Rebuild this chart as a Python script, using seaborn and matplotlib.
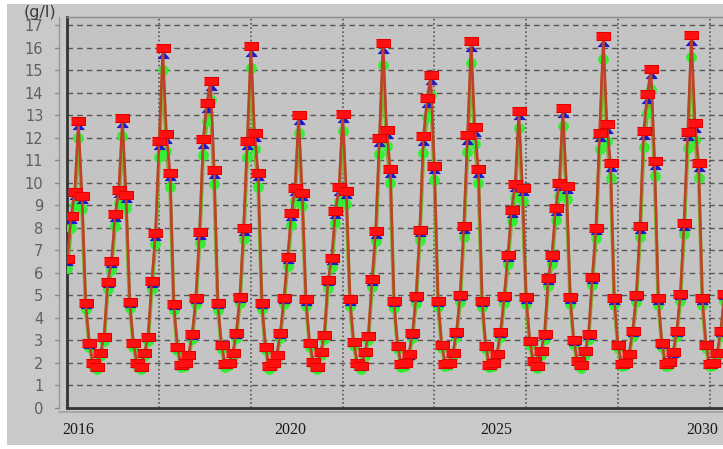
import matplotlib
matplotlib.use("Agg")
import matplotlib.pyplot as plt
from matplotlib.patches import Rectangle
from matplotlib.lines import Line2D
import seaborn as sns
import pandas as pd
import numpy as np

# monthly values, one row per year (15 years)
red_vals = [
    6.6, 8.5, 9.6, 12.75, 9.4, 4.64, 2.86, 1.97, 1.81, 2.44, 3.15, 5.6,
    6.5, 8.58, 9.67, 12.85, 9.44, 4.7, 2.88, 1.96, 1.81, 2.44, 3.15, 5.62,
    7.74, 11.86, 15.96, 12.15, 10.44, 4.6, 2.7, 1.89, 1.98, 2.33, 3.25, 4.88,
    7.79, 11.93, 13.55, 14.53, 10.56, 4.63, 2.78, 1.92, 1.99, 2.41, 3.3, 4.93,
    7.96, 11.86, 16.07, 12.21, 10.44, 4.66, 2.7, 1.84, 1.96, 2.33, 3.3, 4.88,
    6.7, 8.63, 9.77, 13.0, 9.55, 4.81, 2.88, 2.04, 1.81, 2.48, 3.22, 5.67,
    6.66, 8.73, 9.79, 13.07, 9.64, 4.81, 2.93, 2.0, 1.84, 2.46, 3.2, 5.7,
    7.85, 12.0, 16.2, 12.35, 10.6, 4.72, 2.75, 1.92, 1.98, 2.36, 3.3, 4.95,
    7.9, 12.05, 13.75, 14.8, 10.75, 4.75, 2.8, 1.95, 2.0, 2.42, 3.35, 5.0,
    8.05, 12.1, 16.3, 12.45, 10.6, 4.75, 2.75, 1.9, 1.98, 2.38, 3.35, 4.95,
    6.8, 8.8, 9.95, 13.2, 9.75, 4.9, 2.95, 2.05, 1.85, 2.5, 3.25, 5.75,
    6.8, 8.85, 10.0, 13.3, 9.85, 4.9, 2.98, 2.05, 1.88, 2.5, 3.25, 5.8,
    8.0, 12.2, 16.5, 12.6, 10.85, 4.85, 2.8, 1.95, 2.0, 2.4, 3.4, 5.0,
    8.05, 12.3, 13.95, 15.05, 10.95, 4.85, 2.85, 1.95, 2.02, 2.45, 3.4, 5.05,
    8.2, 12.25, 16.55, 12.65, 10.85, 4.85, 2.8, 1.95, 2.0, 2.44, 3.4, 5.05,
]

blue_vals = [
    6.47, 8.33, 9.41, 12.5, 9.21, 4.55, 2.8, 1.93, 1.77, 2.39, 3.09, 5.49,
    6.37, 8.41, 9.48, 12.6, 9.25, 4.61, 2.82, 1.92, 1.77, 2.39, 3.09, 5.51,
    7.59, 11.62, 15.67, 11.91, 10.23, 4.51, 2.65, 1.85, 1.94, 2.28, 3.19, 4.78,
    7.63, 11.69, 13.28, 14.25, 10.35, 4.54, 2.72, 1.88, 1.95, 2.36, 3.23, 4.83,
    7.8, 11.62, 15.77, 11.97, 10.23, 4.57, 2.65, 1.8, 1.92, 2.28, 3.23, 4.78,
    6.57, 8.46, 9.57, 12.74, 9.36, 4.71, 2.82, 2.0, 1.77, 2.43, 3.16, 5.56,
    6.53, 8.56, 9.59, 12.81, 9.45, 4.71, 2.87, 1.96, 1.8, 2.41, 3.14, 5.59,
    7.69, 11.76, 15.9, 12.1, 10.39, 4.63, 2.7, 1.88, 1.94, 2.31, 3.23, 4.85,
    7.74, 11.81, 13.48, 14.52, 10.54, 4.66, 2.74, 1.91, 1.96, 2.37, 3.28, 4.9,
    7.89, 11.86, 16.0, 12.2, 10.39, 4.66, 2.7, 1.86, 1.94, 2.33, 3.28, 4.85,
    6.66, 8.62, 9.75, 12.94, 9.56, 4.8, 2.89, 2.01, 1.81, 2.45, 3.19, 5.64,
    6.66, 8.67, 9.8, 13.03, 9.65, 4.8, 2.92, 2.01, 1.84, 2.45, 3.19, 5.68,
    7.84, 11.96, 16.19, 12.35, 10.63, 4.75, 2.74, 1.91, 1.96, 2.35, 3.33, 4.9,
    7.89, 12.05, 13.67, 14.76, 10.73, 4.75, 2.79, 1.91, 1.98, 2.4, 3.33, 4.95,
    8.04, 12.01, 16.24, 12.4, 10.63, 4.75, 2.74, 1.91, 1.96, 2.39, 3.33, 4.95,
]

green_vals = [
    6.2, 7.99, 9.02, 11.99, 8.84, 4.36, 2.69, 1.85, 1.7, 2.29, 2.96, 5.26,
    6.11, 8.07, 9.09, 12.08, 8.87, 4.42, 2.71, 1.84, 1.7, 2.29, 2.96, 5.28,
    7.28, 11.15, 15.0, 11.42, 9.81, 4.32, 2.54, 1.78, 1.86, 2.19, 3.06, 4.59,
    7.32, 11.21, 12.74, 13.66, 9.93, 4.35, 2.61, 1.8, 1.87, 2.27, 3.1, 4.63,
    7.48, 11.15, 15.11, 11.48, 9.81, 4.38, 2.54, 1.73, 1.84, 2.19, 3.1, 4.59,
    6.3, 8.11, 9.18, 12.22, 8.98, 4.52, 2.71, 1.92, 1.7, 2.33, 3.03, 5.33,
    6.26, 8.21, 9.2, 12.29, 9.06, 4.52, 2.75, 1.88, 1.73, 2.31, 3.01, 5.36,
    7.38, 11.28, 15.23, 11.61, 9.96, 4.44, 2.59, 1.8, 1.86, 2.22, 3.1, 4.65,
    7.43, 11.33, 12.93, 13.91, 10.11, 4.47, 2.63, 1.83, 1.88, 2.27, 3.15, 4.7,
    7.57, 11.37, 15.32, 11.7, 9.96, 4.47, 2.59, 1.79, 1.86, 2.24, 3.15, 4.65,
    6.39, 8.27, 9.35, 12.41, 9.17, 4.61, 2.77, 1.93, 1.74, 2.35, 3.06, 5.41,
    6.39, 8.32, 9.4, 12.5, 9.26, 4.61, 2.8, 1.93, 1.77, 2.35, 3.06, 5.45,
    7.52, 11.47, 15.51, 11.84, 10.2, 4.56, 2.63, 1.83, 1.88, 2.26, 3.2, 4.7,
    7.57, 11.56, 13.11, 14.15, 10.29, 4.56, 2.68, 1.83, 1.9, 2.3, 3.2, 4.75,
    7.71, 11.52, 15.56, 11.89, 10.2, 4.56, 2.63, 1.83, 1.88, 2.29, 3.2, 4.75,
]

year_labels = ["2016", "2020", "2025", "2030"]
year_label_pos = [3.0, 60.7, 116.8, 172.9]   # sample index under each label
y_ticks = list(range(0, 18))
unit_label = "(g/l)"

df = pd.DataFrame({
    "t": np.arange(len(red_vals)),
    "red": red_vals,
    "blue": blue_vals,
    "green": green_vals,
})

sns.set_style("white")

W, H = 723, 449
fig = plt.figure(figsize=(W / 100, H / 100), dpi=100)
fig.patch.set_facecolor("white")
fig.add_artist(Rectangle((7 / W, 4 / H), 716 / W, 441 / H, transform=fig.transFigure,
                         facecolor="#c9c9c9", edgecolor="none", zorder=-10))

# axes runs off the right edge like in the original screenshot
ax = fig.add_axes([67 / W, 41.5 / H, 693 / W, 390.5 / H])
ax.set_facecolor("#c4c4c4")
ax.set_xlim(-0.1, 188.7)
ax.set_ylim(0, 17.36)

# grid
for yv in y_ticks[1:]:
    ax.axhline(yv, color="#555555", lw=1.0, ls=(0, (4, 3)), zorder=1)
for xv in range(25, 189, 25):
    ax.axvline(xv, color="#555555", lw=1.2, ls=(0, (1, 1.5)), zorder=1)

rect_marker = [(-1, -0.6), (1, -0.6), (1, 0.6), (-1, 0.6)]
tri_marker = [(-1, -0.55), (1, -0.55), (0, 0.6)]

sns.lineplot(data=df, x="t", y="green", ax=ax, color="#7fae2a", lw=2.6,
             marker="o", markersize=7, markerfacecolor="#33ee33",
             markeredgecolor="#33ee33", zorder=3)
sns.lineplot(data=df, x="t", y="blue", ax=ax, color="#8a5a40", lw=1.2,
             marker=tri_marker, markersize=8, markerfacecolor="#1a1acc",
             markeredgecolor="#1a1acc", zorder=4)
sns.lineplot(data=df, x="t", y="red", ax=ax, color="#c0402a", lw=1.8,
             marker=rect_marker, markersize=10, markerfacecolor="#ff1010",
             markeredgecolor="#e00000", zorder=5)

ax.set_xlabel("")
ax.set_ylabel("")
ax.set_xticks(range(25, 189, 25))
ax.set_xticklabels([])
ax.set_yticks(y_ticks)
ax.set_yticklabels([str(v) for v in y_ticks])
ax.tick_params(axis="x", length=0)
ax.tick_params(axis="y", length=0, pad=17, labelsize=10.5, labelcolor="#606060")

for side in ["top", "right"]:
    ax.spines[side].set_color("#8a8a8a")
    ax.spines[side].set_linewidth(1)
ax.spines["left"].set_color("#333333")
ax.spines["left"].set_linewidth(2)
ax.spines["left"].set_linestyle((0, (1, 1)))
ax.spines["bottom"].set_color("#333333")
ax.spines["bottom"].set_linewidth(2)

# light secondary y-axis line with small ticks
fig.add_artist(Line2D([59 / W, 59 / W], [41.5 / H, 1 - 17 / H], transform=fig.transFigure,
                      color="#9a9a9a", lw=1))
fig.add_artist(Line2D([59 / W, 1], [37 / H, 37 / H], transform=fig.transFigure,
                      color="#a0a0a0", lw=1.2))
for yv in y_ticks:
    py = 41.5 + yv * 390.5 / 17.36
    fig.add_artist(Line2D([55 / W, 59 / W], [py / H, py / H], transform=fig.transFigure,
                          color="#8a8a8a", lw=1))

for pos, lab in zip(year_label_pos, year_labels):
    ax.text(pos, -0.058, lab, transform=ax.get_xaxis_transform(), ha="center", va="center",
            fontsize=11.5, family="Liberation Serif", color="#1a1a1a")

fig.text(40 / W, 1 - 12 / H, unit_label, ha="center", va="center", fontsize=11.5,
         color="#3a3a3a", family="DejaVu Sans")

fig.savefig("out.png", dpi=100, facecolor=fig.get_facecolor())
